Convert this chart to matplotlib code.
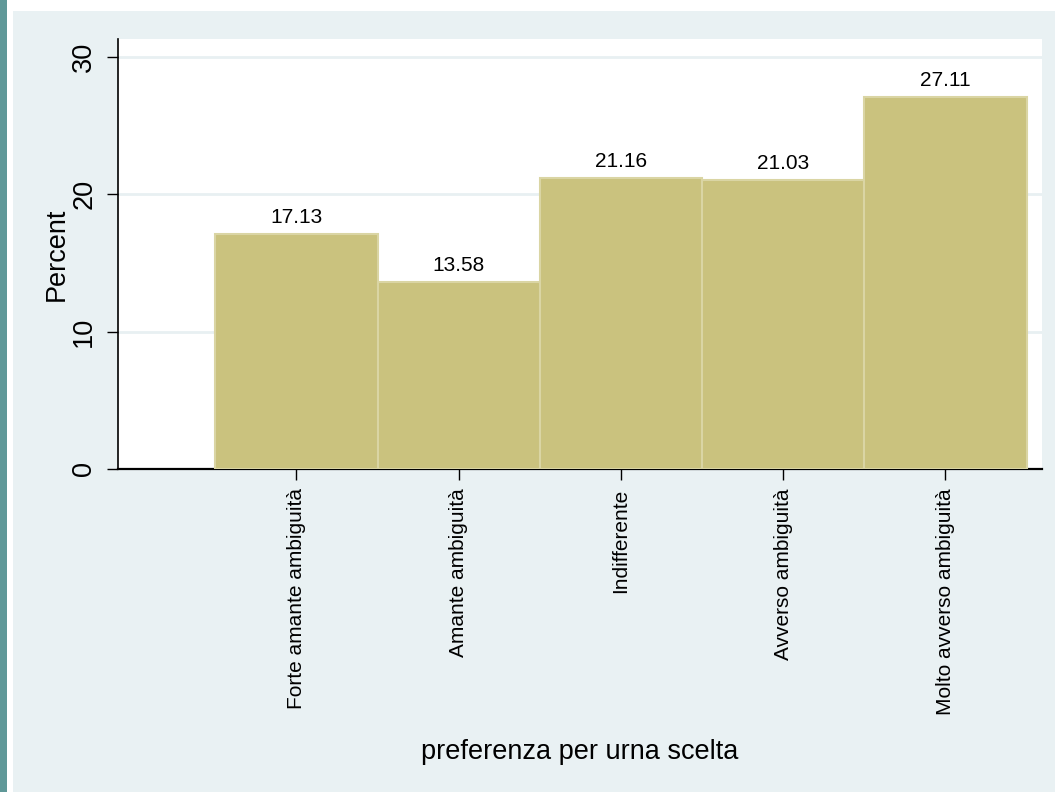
import matplotlib
matplotlib.use("Agg")
import matplotlib.pyplot as plt
from matplotlib.patches import Rectangle
import numpy as np

plt.rcParams['font.family'] = ['Liberation Sans', 'DejaVu Sans']

categories = ["Forte amante ambiguità", "Amante ambiguità", "Indifferente",
              "Avverso ambiguità", "Molto avverso ambiguità"]
percent = [17.13, 13.58, 21.16, 21.03, 27.11]
yticks = [0, 10, 20, 30]
xlabel = "preferenza per urna scelta"
ylabel = "Percent"

W, H = 1055, 792
fig = plt.figure(figsize=(W / 100, H / 100), dpi=100, facecolor="white")

# Background decoration (Stata-like graph region)
fig.add_artist(Rectangle((13 / W, 0), 1 - 13 / W, 1 - 11 / H,
                         transform=fig.transFigure, facecolor="#e9f1f3",
                         edgecolor="none", zorder=-10))
fig.add_artist(Rectangle((0, 0), 7 / W, 1, transform=fig.transFigure,
                         facecolor="#5f9898", edgecolor="none", zorder=-10))

left, right, top, bottom = 118, 1042, 39, 469
ax = fig.add_axes([left / W, (H - bottom) / H, (right - left) / W, (bottom - top) / H])
ax.set_zorder(1)
ax.set_facecolor("white")

x = np.arange(len(categories))
bars = ax.bar(x, percent, width=1.0, color="#cac27e", edgecolor="#dad5a4",
              linewidth=1.5, zorder=3)

for xi, v in zip(x, percent):
    ax.annotate(f"{v:.2f}", (xi, v), xytext=(0, 8), textcoords="offset points",
                ha="center", va="baseline", fontsize=15, color="black", zorder=4)

ax.set_xlim(-1.100, 4.595)
ax.set_ylim(0, 31.31)
ax.set_yticks(yticks)
ax.set_yticklabels([str(t) for t in yticks])
ax.set_xticks(x)
ax.set_xticklabels(categories)

ax.yaxis.grid(True, color="#e8f0f2", linewidth=2, zorder=0)
ax.set_axisbelow(True)

for s in ["top", "right"]:
    ax.spines[s].set_visible(False)
ax.spines["left"].set_linewidth(1.2)
ax.spines["bottom"].set_linewidth(1.6)

ax.tick_params(axis="y", length=8, width=1, pad=7, labelsize=19.5, labelrotation=90)
ax.tick_params(axis="x", length=8, width=1, pad=6, labelsize=15, labelrotation=90)
for lab in ax.get_yticklabels():
    lab.set_va("center")
    lab.set_ha("right")
for lab in ax.get_xticklabels():
    lab.set_va("top")
    lab.set_ha("center")

ax.set_ylabel(ylabel, fontsize=19.5, va="center")
ax.yaxis.set_label_coords((57 - left) / (right - left), 0.5)
ax.set_xlabel(xlabel, fontsize=19.5, va="center")
ax.xaxis.set_label_coords(0.5, (bottom - 752) / (bottom - top))

fig.savefig("out.png", dpi=100, facecolor=fig.get_facecolor())
